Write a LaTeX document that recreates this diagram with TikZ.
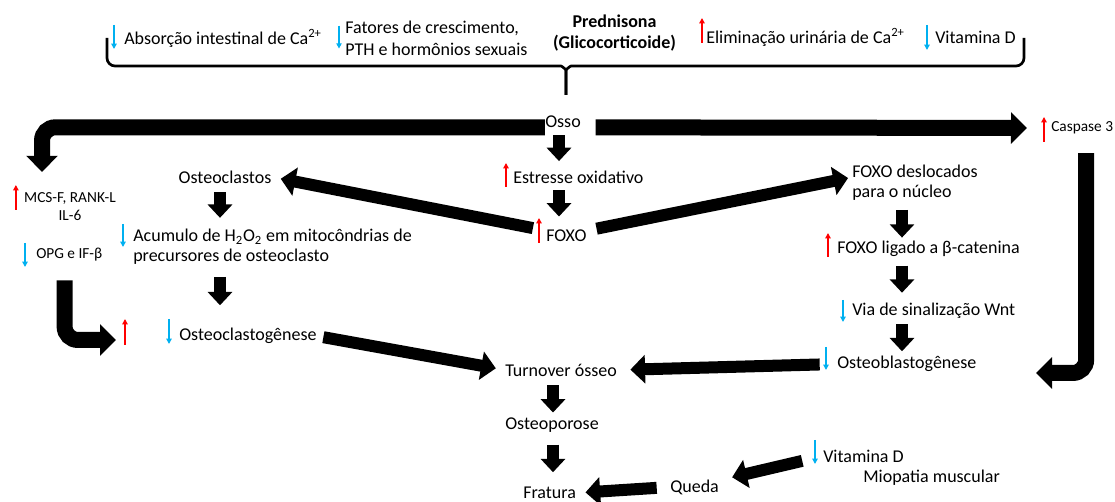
\documentclass[tikz,border=0pt]{standalone}
\usepackage{fontspec}
\setmainfont{Carlito}
\usetikzlibrary{arrows.meta}

\definecolor{risered}{RGB}{255,0,0}
\definecolor{fallblue}{RGB}{0,176,240}

\begin{document}
\begin{tikzpicture}[
        x=0.75pt, y=-0.75pt,
        every node/.style={inner xsep=0pt, inner ysep=2pt, font=\fontsize{13.5}{15}\selectfont},
        smalltext/.style={font=\fontsize{11.5}{14}\selectfont},
        stepdown/.style={line width=9pt, -{Triangle[length=10pt,width=18pt]}},
        linkarrow/.style={line width=9pt, -{Triangle[length=11pt,width=21pt]}},
        bigarrow/.style={line width=12pt, -{Triangle[length=12pt,width=23pt]}},
        risemark/.style={draw=risered, line width=1pt, -{Triangle[length=4pt,width=4pt]}},
        fallmark/.style={draw=fallblue, line width=1pt, -{Triangle[length=4pt,width=4pt]}},
        bracket/.style={line width=2pt, rounded corners=6pt}
    ]
        \useasboundingbox (0,0) rectangle (1115,502);

        % Columns for the short vertical steps
        \coordinate (lcol) at (220,0);
        \coordinate (mcol) at (559,0);
        \coordinate (rcol) at (902,0);
        \coordinate (bcol) at (553,0);

        % Top row
        \node (abs)  [anchor=west] at (124,38) {Absorção intestinal de Ca\textsuperscript{2+}};
        \node (fat)  [anchor=west, align=left, font=\fontsize{13.5}{16.5}\selectfont] at (345,38.6) {Fatores de crescimento,\\PTH e hormônios sexuais};
        \node (pred) [align=center, font=\fontsize{13.5}{15.75}\selectfont\bfseries] at (614.5,33) {Prednisona\\(Glicocorticoide)};
        \node (elim) [anchor=west] at (706,37) {Eliminação urinária de Ca\textsuperscript{2+}};
        \node (vitd) [anchor=west] at (935,37) {Vitamina D};

        % The bracket under the top row
        \draw[bracket] (107,38) -- (107,66) -- (553,66) .. controls (562,66) and (566,70) .. (566,78) -- (566,95);
        \draw[bracket] (1024,38) -- (1024,66) -- (579,66) .. controls (570,66) and (566,70) .. (566,78) -- (566,95);

        % Main nodes
        \node (osso)   at (563,122) {Osso};
        \node (casp)   [smalltext, anchor=west] at (1051,128) {Caspase 3};
        \node (mcs)    [smalltext, align=center] at (70,206.5) {MCS-F, RANK-L\\IL-6};
        \node (opg)    [smalltext, anchor=west] at (36,255) {OPG e IF-β};
        \node (oclast) at (225,177) {Osteoclastos};
        \node (acum)   [anchor=west, align=left] at (133,247) {Acumulo de H\textsubscript{2}O\textsubscript{2} em mitocôndrias de\\precursores de osteoclasto};
        \node (est)    [anchor=west] at (513,177) {Estresse oxidativo};
        \node (foxo)   [anchor=west] at (546,236) {FOXO};
        \node (fdesl)  [anchor=west, align=left] at (852,182.6) {FOXO deslocados\\para o núcleo};
        \node (flig)   [anchor=west] at (837,249) {FOXO ligado a β-catenina};
        \node (wnt)    [anchor=west] at (852,311) {Via de sinalização Wnt};
        \node (oblast) [anchor=west] at (837,364) {Osteoblastogênese};
        \node (oclgen) [anchor=west] at (179,336) {Osteoclastogênese};
        \node (turn)   [anchor=west] at (505,370) {Turnover ósseo};
        \node (opor)   [anchor=west] at (505,425) {Osteoporose};
        \node (frat)   [anchor=west] at (523,493) {Fratura};
        \node (queda)  [anchor=west] at (670,487) {Queda};
        \node (vitdb)  [anchor=west] at (823,456) {Vitamina D};
        \node (miop)   [anchor=west] at (863,478) {Miopatia muscular};

        % Free ends of the bent arrows
        \coordinate (ltip)  at (116,340);
        \coordinate (cturn) at (1036,373);

        % Up and down marks
        \draw[fallmark] (abs.west) ++(-10,-13) -- ++(0,24);
        \draw[fallmark] (fat.west) ++(-6,-13) -- ++(0,23);
        \draw[risemark] (elim.west) ++(-4,6) -- ++(0,-25);
        \draw[fallmark] (vitd.west) ++(-8,-12) -- ++(0,25);
        \draw[risemark] (casp.west) ++(-7,14) -- ++(0,-25);
        \draw[risemark] (mcs.west) ++(-8,3.5) -- ++(0,-25);
        \draw[fallmark] (opg.west) ++(-11,-12) -- ++(0,24);
        \draw[fallmark] (acum.west) ++(-10,-23) -- ++(0,23);
        \draw[risemark] (est.west) ++(-7,10) -- ++(0,-24);
        \draw[risemark] (foxo.west) ++(-7,7) -- ++(0,-25);
        \draw[risemark] (flig.west) ++(-9,8) -- ++(0,-24);
        \draw[fallmark] (wnt.west) ++(-9,-11) -- ++(0,22);
        \draw[fallmark] (oblast.west) ++(-11,-17) -- ++(0,23);
        \draw[fallmark] (oclgen.west) ++(-10,-17) -- ++(0,25);
        \draw[risemark] (ltip) ++(9,5) -- ++(0,-26);
        \draw[fallmark] (vitdb.west) ++(-8,-16) -- ++(0,24);

        % Short vertical steps
        \draw[stepdown, shorten <=3.4pt, shorten >=5pt] (mcol |- osso.south) -- (mcol |- est.north);
        \draw[stepdown, shorten <=3pt, shorten >=8pt] (mcol |- est.south) -- (mcol |- foxo.north);
        \draw[stepdown, shorten <=4.5pt, shorten >=6.4pt] (lcol |- oclast.south) -- (lcol |- acum.north);
        \draw[stepdown, shorten <=7pt, shorten >=15pt] (lcol |- acum.south) -- (lcol |- oclgen.north);
        \draw[stepdown, shorten <=5pt, shorten >=0.5pt] (rcol |- fdesl.south) -- (rcol |- flig.north);
        \draw[stepdown, shorten <=4.5pt, shorten >=5.7pt] (rcol |- flig.south) -- (rcol |- wnt.north);
        \draw[stepdown, shorten <=2pt, shorten >=1.5pt] (rcol |- wnt.south) -- (rcol |- oblast.north);
        \draw[stepdown, shorten <=4.5pt, shorten >=1.7pt] (bcol |- turn.south) -- (bcol |- opor.north);
        \draw[stepdown, shorten <=7pt, shorten >=9pt] (bcol |- opor.south) -- (bcol |- frat.north);

        % Big arrows out of Osso
        \draw[bigarrow, rounded corners=10pt, shorten >=13pt] ([yshift=-4pt]osso.west) -| ([xshift=-21pt]mcs.north);
        \draw[bigarrow, shorten <=11pt, shorten >=18pt] ([yshift=-4pt]osso.east) -- (casp.west);

        % Bent arrows down the sides
        \draw[bigarrow, rounded corners=10pt, shorten <=12pt] ([xshift=3pt]casp.south) |- (cturn);
        \draw[bigarrow, rounded corners=10pt, shorten <=12pt] ([xshift=-3.5pt]opg.south) |- (ltip);

        % Slanted links
        \draw[linkarrow, shorten <=10pt, shorten >=7pt] ([yshift=4pt]foxo.west) -- (oclast.east);
        \draw[linkarrow, shorten <=7.5pt, shorten >=3pt] ([yshift=4pt]foxo.east) -- ([yshift=4pt]fdesl.west);
        \draw[linkarrow, shorten <=5pt, shorten >=7pt] (oclgen.east) -- (turn.west);
        \draw[linkarrow, shorten <=13pt, shorten >=10pt] (oblast.west) -- (turn.east);
        \draw[linkarrow, shorten <=16pt, shorten >=10pt] (vitdb.west) -- ([yshift=5pt]queda.east);
        \draw[linkarrow, shorten <=10pt, shorten >=7pt] (queda.west) -- (frat.east);

    \end{tikzpicture}
\end{document}
